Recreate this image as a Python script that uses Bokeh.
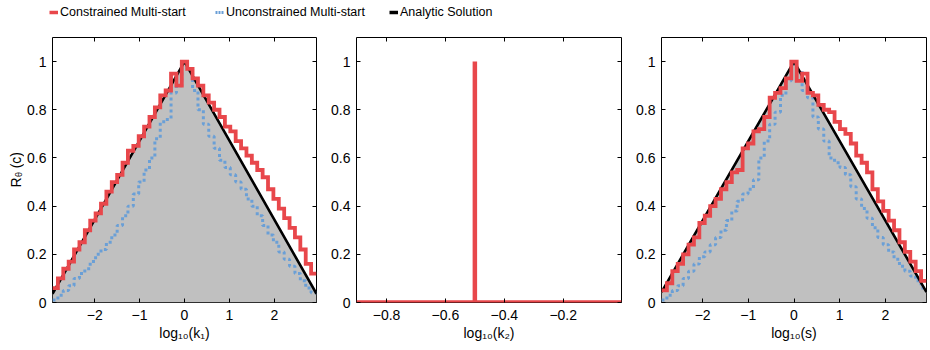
import numpy as np
from bokeh.plotting import figure
from bokeh.layouts import row, column
from bokeh.models import (Range1d, LinearAxis, FixedTicker, CustomJSTickFormatter,
                          Legend, LegendItem, ColumnDataSource)
from bokeh.core.properties import value
from bokeh.embed import file_html
from bokeh.resources import INLINE

# ---------------- data ----------------
k1_range = (-2.94, 2.94)
k2_range = (-0.902, -0.002)
s_range = (-2.9, 2.9)

k1_constrained = [0.06, 0.10, 0.14, 0.17, 0.22, 0.25, 0.30, 0.34, 0.37, 0.41,
                  0.46, 0.50, 0.53, 0.58, 0.63, 0.65, 0.69, 0.73, 0.77, 0.81,
                  0.86, 0.88, 0.95, 0.90, 1.00, 0.97, 0.93, 0.90, 0.86, 0.83,
                  0.80, 0.77, 0.73, 0.71, 0.67, 0.64, 0.61, 0.58, 0.55, 0.52,
                  0.47, 0.43, 0.39, 0.35, 0.31, 0.27, 0.22, 0.16, 0.12]
k1_unconstrained = [0.01, 0.03, 0.05, 0.07, 0.10, 0.12, 0.14, 0.17, 0.20, 0.22,
                    0.25, 0.28, 0.32, 0.36, 0.40, 0.45, 0.50, 0.55, 0.60, 0.68,
                    0.75, 0.76, 0.87, 0.90, 1.00, 0.97, 0.88, 0.80, 0.74, 0.69,
                    0.64, 0.59, 0.56, 0.53, 0.50, 0.47, 0.43, 0.40, 0.36, 0.32,
                    0.28, 0.25, 0.21, 0.18, 0.15, 0.12, 0.09, 0.06, 0.04]
k1_analytic_x = [-2.94, 0.0, 2.94]
k1_analytic_y = [0.036, 1.0, 0.036]

k2_x = [-0.902, -0.5, -0.5, -0.5, -0.002]
k2_constrained = [0.0, 0.0, 1.0, 0.0, 0.0]

s_constrained = [0.05, 0.08, 0.13, 0.16, 0.20, 0.24, 0.27, 0.33, 0.36, 0.40,
                 0.43, 0.47, 0.50, 0.54, 0.55, 0.64, 0.66, 0.71, 0.72, 0.77,
                 0.85, 0.87, 0.89, 0.93, 1.00, 0.92, 0.95, 0.87, 0.86, 0.82,
                 0.80, 0.79, 0.75, 0.72, 0.70, 0.66, 0.61, 0.58, 0.54, 0.47,
                 0.42, 0.38, 0.34, 0.30, 0.25, 0.21, 0.17, 0.13, 0.09]
s_unconstrained = [0.01, 0.03, 0.05, 0.07, 0.10, 0.13, 0.16, 0.19, 0.21, 0.24,
                   0.27, 0.30, 0.34, 0.38, 0.42, 0.45, 0.47, 0.51, 0.60, 0.67,
                   0.74, 0.79, 0.86, 0.92, 0.99, 0.96, 0.88, 0.85, 0.77, 0.72,
                   0.67, 0.60, 0.58, 0.56, 0.53, 0.48, 0.43, 0.39, 0.35, 0.31,
                   0.27, 0.24, 0.21, 0.18, 0.15, 0.13, 0.11, 0.09, 0.06]
s_analytic_x = [-2.9, 0.0, 2.9]
s_analytic_y = [0.043, 1.0, 0.043]

y_ticks = [0, 0.2, 0.4, 0.6, 0.8, 1.0]
k_ticks = [-2, -1, 0, 1, 2]
k2_ticks = [-0.8, -0.6, -0.4, -0.2]

legend_labels = ["Constrained Multi-start", "Unconstrained Multi-start", "Analytic Solution"]
y_title_parts = ["R", "\u03b8", "(c)"]

# ---------------- styles ----------------
RED = "#E8474B"
BLUE = "#6A9FD6"
GRAY = "#C0C0C0"
FONT = "Liberation Sans"

fmt_code = "var v = Number(Number(tick).toFixed(3)); return (v < 0 ? '\u2212' : '') + String(Math.abs(v));"


def add_axes(p, xticks, xlabel):
    for loc in ["below", "left", "above", "right"]:
        ticks = xticks if loc in ("below", "above") else y_ticks
        ax = LinearAxis(ticker=FixedTicker(ticks=ticks, minor_ticks=[]))
        ax.axis_line_color = None
        ax.major_tick_in = 4
        ax.major_tick_out = 0
        ax.minor_tick_in = 0
        ax.minor_tick_out = 0
        ax.major_tick_line_color = "black"
        ax.major_tick_line_width = 1
        ax.major_label_text_font = FONT
        ax.major_label_text_font_size = "14px"
        ax.major_label_text_color = "black"
        if loc in ("below", "left"):
            ax.formatter = CustomJSTickFormatter(code=fmt_code)
            ax.major_label_standoff = 7 if loc == "below" else 6
        else:
            ax.formatter = CustomJSTickFormatter(code="return '';")
            ax.major_label_standoff = 0
            ax.major_label_text_font_size = "0px"
        if loc == "below":
            ax.axis_label = xlabel
            ax.axis_label_text_font = FONT
            ax.axis_label_text_font_size = "14px"
            ax.axis_label_text_font_style = "normal"
            ax.axis_label_text_color = "black"
            ax.axis_label_standoff = 2
        p.add_layout(ax, loc)


def make_panel(xr, width, bl, br, xticks, xlabel):
    p = figure(width=width, height=322, x_range=Range1d(*xr), y_range=Range1d(0, 1.1),
               toolbar_location=None, output_backend="svg",
               min_border_left=bl, min_border_right=br, min_border_top=9, min_border_bottom=48,
               x_axis_location=None, y_axis_location=None)
    p.grid.visible = False
    p.outline_line_color = "black"
    p.outline_line_width = 1
    p.background_fill_color = "white"
    p.border_fill_color = "white"
    add_axes(p, xticks, xlabel)
    return p


def draw_hist(p, xr, constrained, unconstrained, ax_x, ax_y):
    p.varea(x=ax_x, y1=[0] * len(ax_x), y2=ax_y, fill_color=GRAY)
    edges = np.linspace(xr[0], xr[1], len(constrained) + 1)
    p.step(edges, list(unconstrained) + [unconstrained[-1]], mode="after",
           line_color=BLUE, line_width=3, line_dash="3 3", line_cap="butt")
    p.line(ax_x, ax_y, line_color="black", line_width=2.6)
    p.step(edges, list(constrained) + [constrained[-1]], mode="after",
           line_color=RED, line_width=3.8, line_join="miter")


# y-title strip (left of first panel)
p0 = figure(width=24, height=322, x_range=Range1d(0, 24), y_range=Range1d(0, 1.1),
            toolbar_location=None, output_backend="svg",
            min_border_left=0, min_border_right=0, min_border_top=9, min_border_bottom=48,
            x_axis_location=None, y_axis_location=None)
p0.grid.visible = False
p0.outline_line_color = None
p0.text(x=[15], y=[0.477], text=[y_title_parts[0]], angle=np.pi / 2,
        text_align="left", text_baseline="middle", text_font=value(FONT),
        text_font_size="14px", text_color="black")
p0.text(x=[18.5], y=[0.521], text=[y_title_parts[1]], angle=np.pi / 2,
        text_align="left", text_baseline="middle", text_font=value(FONT),
        text_font_size="9px", text_color="black")
p0.text(x=[15], y=[0.557], text=[y_title_parts[2]], angle=np.pi / 2,
        text_align="left", text_baseline="middle", text_font=value(FONT),
        text_font_size="14px", text_color="black")

p1 = make_panel(k1_range, 300, 28, 8, k_ticks, "log\u2081\u2080(k\u2081)")
draw_hist(p1, k1_range, k1_constrained, k1_unconstrained, k1_analytic_x, k1_analytic_y)

p2 = make_panel(k2_range, 308, 32, 11, k2_ticks, "log\u2081\u2080(k\u2082)")
p2.line(k2_x, k2_constrained, line_color=RED, line_width=4.5, line_join="miter")

p3 = make_panel(s_range, 298, 29, 4, k_ticks, "log\u2081\u2080(s)")
draw_hist(p3, s_range, s_constrained, s_unconstrained, s_analytic_x, s_analytic_y)

# ---------------- legend strip ----------------
lg = figure(width=930, height=28, x_range=Range1d(0, 1), y_range=Range1d(0, 1),
            toolbar_location=None, output_backend="svg", min_border=0,
            x_axis_location=None, y_axis_location=None)
lg.grid.visible = False
lg.outline_line_color = None
off = ColumnDataSource(data=dict(x=[5, 6], y=[5, 6]))
r_red = lg.line("x", "y", source=off, line_color=RED, line_width=3.5)
r_blue = lg.line("x", "y", source=off, line_color=BLUE, line_width=3, line_dash="2 1")
r_black = lg.line("x", "y", source=off, line_color="black", line_width=3.5)
for r, lab, xpos in zip([r_red, r_blue, r_black], legend_labels, [49, 215, 389]):
    leg = Legend(items=[LegendItem(label=lab, renderers=[r])], location=(xpos, 9),
                 orientation="horizontal", padding=0, margin=0, spacing=0,
                 glyph_width=9, glyph_height=14, label_height=14, label_standoff=2,
                 label_text_font=FONT, label_text_font_size="12.5px",
                 label_text_color="black", border_line_color=None,
                 background_fill_alpha=0)
    lg.add_layout(leg)

layout = column(lg, row(p0, p1, p2, p3))
open("out.html", "w").write(file_html(layout, INLINE))
